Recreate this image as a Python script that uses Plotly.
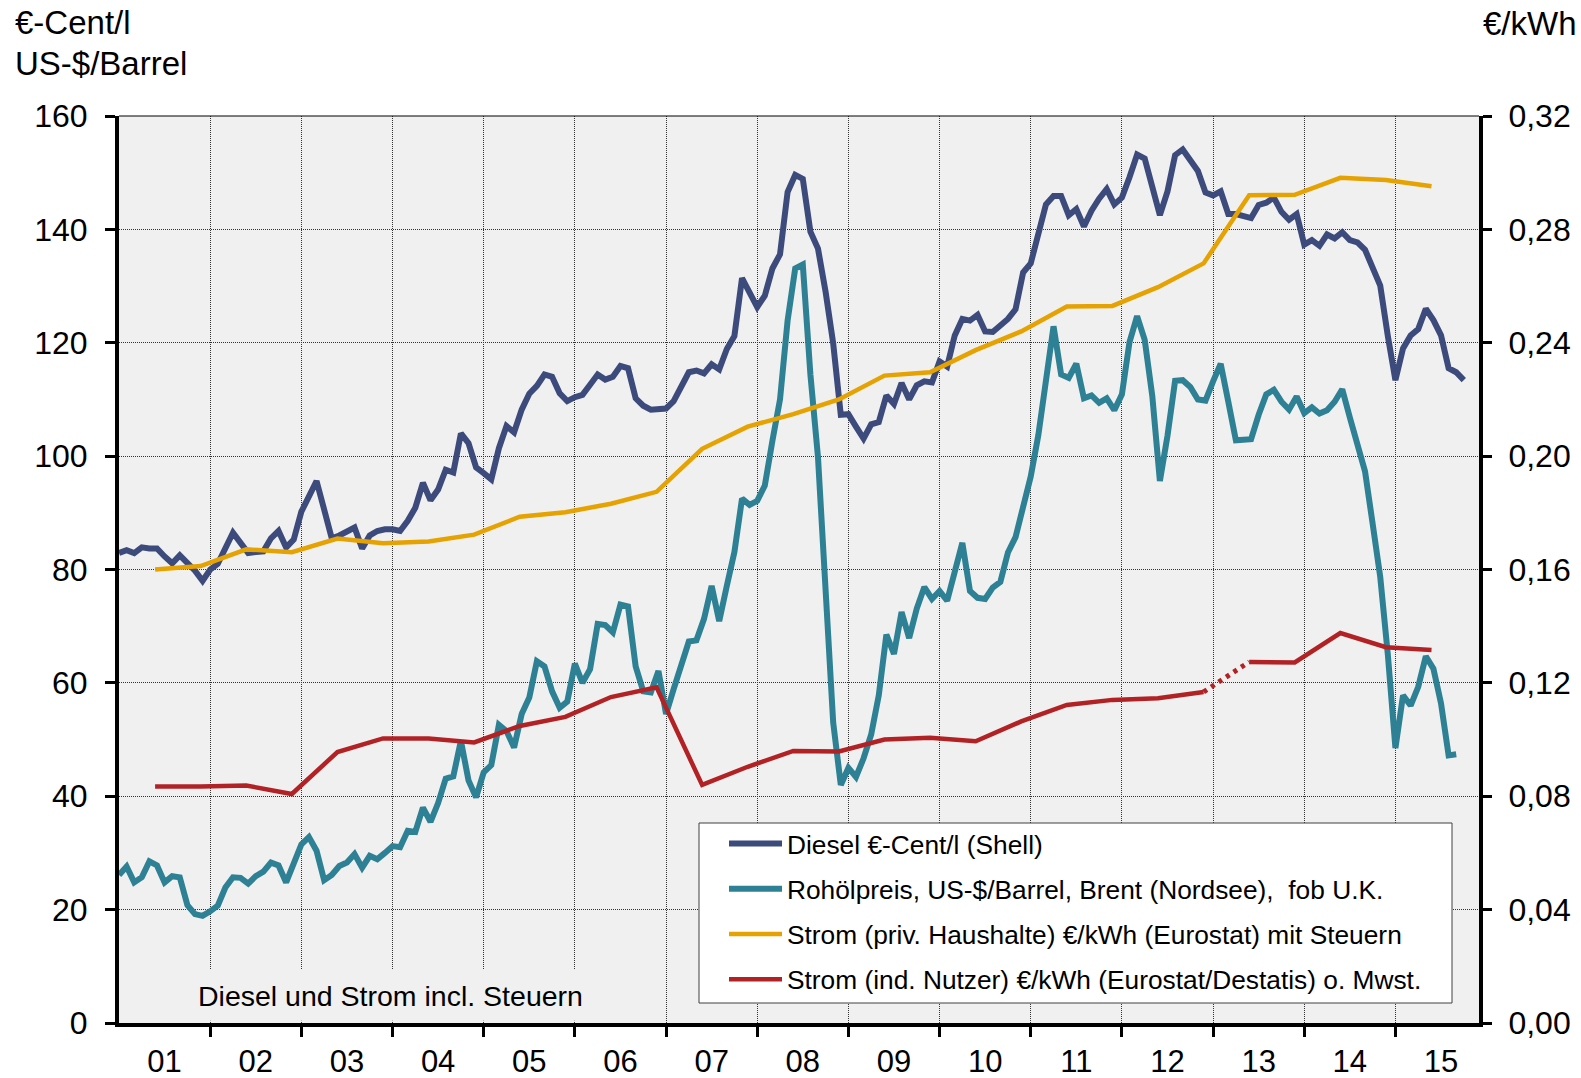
import plotly.graph_objects as go

# ---------------- data ----------------
# monthly values, first month = Jan 2001
diesel = [
    82.9, 83.4, 82.9, 83.9, 83.7, 83.7, 82.3, 81.1, 82.5, 81.1, 79.8, 78.0,
    80.0, 81.0, 83.7, 86.5, 84.7, 82.9, 83.1, 83.2, 85.5, 86.8, 83.9, 85.3,
    90.2, 92.8, 95.6, 90.6, 85.5, 86.0, 86.8, 87.4, 83.7, 86.0, 86.8, 87.1,
    87.1, 86.8, 88.6, 90.9, 95.3, 92.2, 94.1, 97.6, 97.1, 104.0, 102.3, 98.0,
    97.0, 95.9, 101.4, 105.3, 104.2, 108.2, 111.0, 112.4, 114.4, 114.0, 111.1, 109.7,
    110.4, 110.8, 112.6, 114.4, 113.5, 114.0, 115.9, 115.5, 110.2, 108.9, 108.2, 108.2,
    108.4, 109.7, 112.2, 114.8, 115.1, 114.6, 116.2, 115.3, 118.9, 121.2, 131.4, 128.8,
    126.3, 128.3, 133.1, 135.6, 146.6, 149.6, 148.9, 139.6, 136.6, 129.0, 119.9, 107.3,
    107.4, 105.2, 103.1, 105.6, 106.0, 110.7, 109.2, 112.9, 110.0, 112.5, 113.2, 113.0,
    116.7, 115.8, 121.3, 124.2, 123.9, 124.9, 122.0, 121.9, 122.9, 124.2, 125.9, 132.4,
    134.0, 139.0, 144.4, 145.9, 145.9, 142.5, 143.6, 140.5, 143.3, 145.4, 147.1, 144.4,
    145.6, 149.2, 153.2, 152.5, 147.6, 142.5, 146.7, 153.1, 154.1, 152.2, 150.3, 146.5,
    146.0, 146.7, 142.7, 142.7, 142.3, 142.0, 144.3, 144.7, 145.6, 143.1, 141.7, 142.7,
    137.3, 138.1, 137.1, 139.1, 138.4, 139.5, 138.1, 137.7, 136.4, 133.4, 130.1, 121.2,
    113.4, 119.0, 121.3, 122.4, 126.0, 124.0, 121.3, 115.5, 114.8, 113.4,
]

brent = [
    26.1, 27.6, 24.8, 25.7, 28.5, 27.8, 24.8, 25.9, 25.7, 20.8, 19.2, 18.9,
    19.7, 20.7, 23.9, 25.7, 25.6, 24.6, 25.9, 26.7, 28.3, 27.8, 24.8, 28.3,
    31.5, 32.8, 30.4, 25.2, 26.1, 27.7, 28.3, 29.8, 27.4, 29.5, 28.9, 30.0,
    31.2, 31.0, 33.9, 33.7, 38.0, 35.5, 38.8, 43.1, 43.5, 49.8, 42.8, 39.8,
    44.2, 45.5, 52.6, 51.5, 48.6, 54.5, 57.4, 63.8, 62.9, 58.5, 55.6, 56.7,
    63.4, 60.0, 62.4, 70.4, 70.2, 68.9, 73.8, 73.5, 62.9, 58.5, 58.3, 62.1,
    54.5, 58.9, 63.2, 67.3, 67.5, 71.3, 77.1, 70.9, 77.1, 83.1, 92.5, 91.4,
    92.1, 94.8, 102.7, 110.0, 123.9, 133.1, 133.8, 114.4, 99.8, 74.9, 53.0, 42.0,
    45.0, 43.4, 46.7, 50.9, 57.8, 68.5, 65.1, 72.5, 67.9, 73.1, 76.9, 74.8,
    76.2, 74.5, 79.2, 84.7, 76.2, 75.0, 74.8, 76.8, 77.8, 83.0, 85.7, 91.5,
    96.4, 103.7, 112.9, 122.9, 114.4, 113.8, 116.3, 110.2, 110.7, 109.4, 110.2, 108.1,
    110.9, 120.1, 124.7, 120.5, 110.6, 95.6, 103.6, 113.3, 113.4, 112.2, 110.0, 109.8,
    113.2, 116.3, 109.6, 102.8, 102.9, 103.0, 107.3, 110.9, 111.7, 109.6, 108.2, 110.5,
    107.6, 108.6, 107.5, 108.1, 109.6, 111.8, 106.8, 102.1, 97.3, 88.1, 78.7, 65.0,
    48.5, 57.8, 56.0, 59.3, 64.7, 62.5, 56.4, 47.2, 47.4,
]

# half-yearly electricity prices (EUR/kWh)
semesters = [f"{y}-{h}" for y in range(2001, 2016) for h in (1, 2)][:29]
strom_priv = [
    0.1600, 0.1612, 0.1671, 0.1661, 0.1709, 0.1693, 0.1699, 0.1723, 0.1786, 0.1802,
    0.1832, 0.1874, 0.2026, 0.2104, 0.2148, 0.2200, 0.2284, 0.2296, 0.2374, 0.2440,
    0.2528, 0.2530, 0.2596, 0.2680, 0.2920, 0.2922, 0.2982, 0.2974, 0.2952,
]
strom_ind = [
    0.0834, 0.0834, 0.0838, 0.0808, 0.0956, 0.1004, 0.1004, 0.0990, 0.1048, 0.1080,
    0.1150, 0.1184, 0.0840, 0.0904, 0.0960, 0.0958, 0.1000, 0.1006, 0.0994, 0.1064,
    0.1122, 0.1140, 0.1146, 0.1168, 0.1274, 0.1272, 0.1376, 0.1326, 0.1316,
]
dotted_segment = ("2012-2", "2013-1")   # industrial price: break in the series

year_labels = [f"{y:02d}" for y in range(1, 16)]

# ---------------- helpers ----------------
def month_x(i):
    return i  # month index since Jan 2001

def semester_x(label):
    y, h = label.split("-")
    return (int(y) - 2001) * 12 + (int(h) - 1) * 6 + 4.75

FONT = "Liberation Sans, Arial, sans-serif"
C_DIESEL = "#3C4B7C"
C_BRENT = "#2E8194"
C_PRIV = "#E5A200"
C_IND = "#B22225"
BG = "#F0F0F0"

# plot-area pixel geometry
W, H = 1581, 1078
L, R, T, B = 119, 102, 116, 55
PW, PH = W - L - R, H - T - B

def px(xp):
    return (xp - L) / PW

def py(yp):
    return (H - B - yp) / PH

fig = go.Figure()

fig.add_trace(go.Scatter(
    x=[month_x(i) for i in range(len(diesel))], y=diesel,
    mode="lines", line=dict(color=C_DIESEL, width=6),
    name="Diesel €-Cent/l (Shell)", legendgroup="a"))

fig.add_trace(go.Scatter(
    x=[month_x(i) for i in range(len(brent))], y=brent,
    mode="lines", line=dict(color=C_BRENT, width=6),
    name="Rohölpreis, US-$/Barrel, Brent (Nordsee),  fob U.K.", legendgroup="b"))

fig.add_trace(go.Scatter(
    x=[semester_x(s) for s in semesters], y=strom_priv, yaxis="y2",
    mode="lines", line=dict(color=C_PRIV, width=4.5),
    name="Strom (priv. Haushalte) €/kWh (Eurostat) mit Steuern", legendgroup="c"))

# industrial price: solid parts and dotted break
xs, ys = [], []
i0 = semesters.index(dotted_segment[0])
for k, s in enumerate(semesters):
    xs.append(semester_x(s))
    ys.append(strom_ind[k])
    if k == i0:
        xs.append(None)
        ys.append(None)
fig.add_trace(go.Scatter(
    x=xs, y=ys, yaxis="y2", mode="lines", connectgaps=False,
    line=dict(color=C_IND, width=4.5),
    name="Strom (ind. Nutzer) €/kWh (Eurostat/Destatis) o. Mwst.", legendgroup="d"))
i1 = semesters.index(dotted_segment[1])
fig.add_trace(go.Scatter(
    x=[semester_x(semesters[i0]), semester_x(semesters[i1])],
    y=[strom_ind[i0], strom_ind[i1]], yaxis="y2", mode="lines",
    line=dict(color=C_IND, width=5, dash="4px,5px"),
    showlegend=False, legendgroup="d", hoverinfo="skip"))

tickfont = dict(family=FONT, size=32, color="black")

fig.update_layout(
    width=W, height=H, autosize=False,
    margin=dict(l=L, r=R, t=T, b=B, pad=0, autoexpand=False),
    paper_bgcolor="white", plot_bgcolor=BG,
    separators=",.",
    font=dict(family=FONT, color="black"),
    showlegend=True,
    legend=dict(
        x=px(724), y=py(820), xanchor="left", yanchor="top",
        bgcolor="rgba(0,0,0,0)", borderwidth=0,
        font=dict(family=FONT, size=26.3, color="black"),
        itemwidth=53, tracegroupgap=8, traceorder="grouped",
    ),
    xaxis=dict(
        range=[0, 179], showgrid=False, zeroline=False, automargin=False,
        tickmode="array",
        tickvals=[6 + 12 * i for i in range(len(year_labels))],
        ticktext=year_labels, ticks="", ticklabelstandoff=8,
        tickfont=dict(family=FONT, size=31, color="black"),
        showline=True, linecolor="black", linewidth=4,
        minor=dict(
            tickmode="array",
            tickvals=[12 * i for i in range(1, len(year_labels))],
            ticks="outside", ticklen=10, tickwidth=3, tickcolor="black",
            showgrid=True, gridcolor="#333333", gridwidth=1, griddash="1px,1px",
        ),
    ),
    yaxis=dict(
        range=[0, 160], dtick=20, tick0=0, automargin=False,
        showgrid=True, gridcolor="#333333", gridwidth=1, griddash="1px,1px",
        zeroline=False,
        ticks="outside", ticklen=10, tickwidth=3, tickcolor="black",
        ticklabelstandoff=11, tickfont=tickfont,
        showline=True, linecolor="black", linewidth=4,
    ),
    yaxis2=dict(
        range=[0, 0.32], dtick=0.04, tick0=0, tickformat=".2f", automargin=False,
        overlaying="y", side="right", showgrid=False, zeroline=False,
        ticks="outside", ticklen=9, tickwidth=3, tickcolor="black",
        ticklabelstandoff=10, tickfont=tickfont,
        showline=True, linecolor="black", linewidth=4,
    ),
)

shapes = [
    # top border of plot area
    dict(type="line", xref="paper", yref="paper", x0=0, x1=1, y0=1, y1=1,
         line=dict(color="black", width=1), layer="above"),
    # text box at the bottom left (covers grid lines)
    dict(type="rect", xref="x", yref="y", x0=0.3, x1=70, y0=0.4, y1=9.5,
         fillcolor=BG, line=dict(width=0), layer="between"),
    # legend box
    dict(type="rect", xref="paper", yref="paper",
         x0=px(699), x1=px(1452), y0=py(1003), y1=py(823),
         fillcolor="white", line=dict(color="#404040", width=1), layer="above"),
]
fig.update_layout(shapes=shapes)

annots = [
    dict(text="€-Cent/l", x=px(13), y=py(23), xanchor="left", yanchor="middle"),
    dict(text="US-$/Barrel", x=px(13), y=py(64), xanchor="left", yanchor="middle"),
    dict(text="€/kWh", x=px(1579), y=py(24), xanchor="right", yanchor="middle"),
]
for a in annots:
    fig.add_annotation(xref="paper", yref="paper", showarrow=False,
                       font=dict(family=FONT, size=33, color="black"), **a)

fig.add_annotation(text="Diesel und Strom incl. Steuern", xref="paper", yref="paper",
                   x=px(390), y=py(996), xanchor="center", yanchor="middle",
                   showarrow=False, font=dict(family=FONT, size=28.5, color="black"))

fig.write_html("out.html",
               config={"displayModeBar": False},
               post_script="document.body.style.margin='0';document.body.style.overflow='hidden';")
